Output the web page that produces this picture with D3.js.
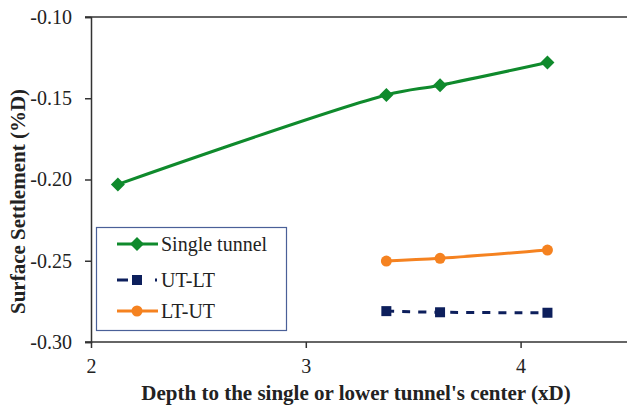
<!DOCTYPE html>
<html>
<head>
<meta charset="utf-8">
<script src="https://cdn.jsdelivr.net/npm/d3@7"></script>
<style>
  body { margin: 0; background: #fff; }
  svg { display: block; font-family: "Liberation Serif", "Times New Roman", serif; }
</style>
</head>
<body>
<div id="chart"></div>
<script>
// data
const depths = [2.125, 3.375, 3.625, 4.125]
const singleTunnel = [-0.203, -0.148, -0.142, -0.128]
const depthsTwin = [3.375, 3.625, 4.125]
const utLt = [-0.281, -0.2817, -0.282]
const ltUt = [-0.2502, -0.2485, -0.2434]
const xTicks = [2, 3, 4]
const yTicks = [-0.30, -0.25, -0.20, -0.15, -0.10]

const W = 627, H = 410
const margin = {top: 17, right: 0, bottom: 68, left: 91}
const SERIF = "'Liberation Serif', 'Times New Roman', serif"

const series = [
    {name: "Single tunnel", xs: depths, ys: singleTunnel, color: "#0F8A2C", marker: "diamond", dash: null},
    {name: "UT-LT", xs: depthsTwin, ys: utLt, color: "#0D1F5C", marker: "square", dash: "8,8"},
    {name: "LT-UT", xs: depthsTwin, ys: ltUt, color: "#F58220", marker: "circle", dash: null}
]

const svg = d3.select("#chart").append("svg")
    .attr("width", W).attr("height", H)

const x = d3.scaleLinear().domain([2, 4.5]).range([margin.left, W - margin.right + 1])
const y = d3.scaleLinear().domain([-0.30, -0.10]).range([H - margin.bottom, margin.top])

// axes
const xAxis = svg.append("g")
    .attr("transform", `translate(0,${y(-0.30)})`)
    .call(d3.axisBottom(x).tickValues(xTicks).tickSize(6).tickPadding(11).tickFormat(d3.format("d")))
const yAxis = svg.append("g")
    .attr("transform", `translate(${x(2)},0)`)
    .call(d3.axisLeft(y).tickValues(yTicks).tickSize(6).tickPadding(13))

for (const g of [xAxis, yAxis]) {
    g.attr("font-family", SERIF)
    g.select(".domain").attr("stroke", "#333").attr("stroke-width", 1.5)
    g.selectAll(".tick line").attr("stroke", "#333").attr("stroke-width", 1.5)
    g.selectAll(".tick text").attr("font-size", 20).attr("fill", "#222")
}
xAxis.select(".domain").attr("d", `M${x(2) - 6},0H${W}`)
yAxis.selectAll(".tick text").text(d => d.toFixed(2))

// top border line
svg.append("line")
    .attr("x1", x(2) - 6).attr("x2", W)
    .attr("y1", y(-0.10)).attr("y2", y(-0.10))
    .attr("stroke", "#333").attr("stroke-width", 1.5)

// axis titles
svg.append("text")
    .attr("x", (x(2) + W) / 2 - 3).attr("y", 400)
    .attr("text-anchor", "middle")
    .attr("font-size", 21).attr("font-weight", "bold").attr("fill", "#222")
    .text("Depth to the single or lower tunnel's center (xD)")
svg.append("text")
    .attr("transform", `translate(25,${(y(-0.10) + y(-0.30)) / 2 + 22}) rotate(-90)`)
    .attr("text-anchor", "middle")
    .attr("font-size", 21).attr("font-weight", "bold").attr("fill", "#222")
    .text("Surface Settlement (%D)")

const line = d3.line().curve(d3.curveCatmullRom.alpha(0.5))

function drawMarker (g, type, cx, cy, color) {
    if (type === "diamond") {
        g.append("path")
            .attr("d", `M${cx},${cy - 7}L${cx + 7},${cy}L${cx},${cy + 7}L${cx - 7},${cy}Z`)
            .attr("fill", color)
    } else if (type === "square") {
        g.append("rect").attr("x", cx - 5).attr("y", cy - 5).attr("width", 10).attr("height", 10)
            .attr("fill", color)
    } else {
        g.append("circle").attr("cx", cx).attr("cy", cy).attr("r", 5.5).attr("fill", color)
    }
}

const plot = svg.append("g")
series.forEach(s => {
    const pts = s.xs.map((d, i) => [x(d), y(s.ys[i])])
    plot.append("path")
        .attr("d", line(pts))
        .attr("fill", "none")
        .attr("stroke", s.color)
        .attr("stroke-width", 3)
        .attr("stroke-dasharray", s.dash)
    pts.forEach(p => drawMarker(plot, s.marker, p[0], p[1], s.color))
})

// legend
const legend = svg.append("g")
legend.append("rect")
    .attr("x", 96.5).attr("y", 227.5).attr("width", 190).attr("height", 103)
    .attr("fill", "#fff").attr("stroke", "#4A6098").attr("stroke-width", 1.2)
const rowY = [244, 280, 311]
series.forEach((s, i) => {
    const ly = rowY[i]
    if (s.marker === "square") {
        legend.append("line").attr("x1", 117).attr("x2", 128).attr("y1", ly).attr("y2", ly)
            .attr("stroke", s.color).attr("stroke-width", 3)
        legend.append("line").attr("x1", 155).attr("x2", 157).attr("y1", ly).attr("y2", ly)
            .attr("stroke", s.color).attr("stroke-width", 3)
    } else {
        legend.append("line").attr("x1", 117).attr("x2", 158).attr("y1", ly).attr("y2", ly)
            .attr("stroke", s.color).attr("stroke-width", 3)
    }
    drawMarker(legend, s.marker, 137, ly, s.color)
    legend.append("text")
        .attr("x", 161).attr("y", ly + 7)
        .attr("font-size", 20).attr("font-family", SERIF).attr("fill", "#222")
        .text(s.name)
})
</script>
</body>
</html>
